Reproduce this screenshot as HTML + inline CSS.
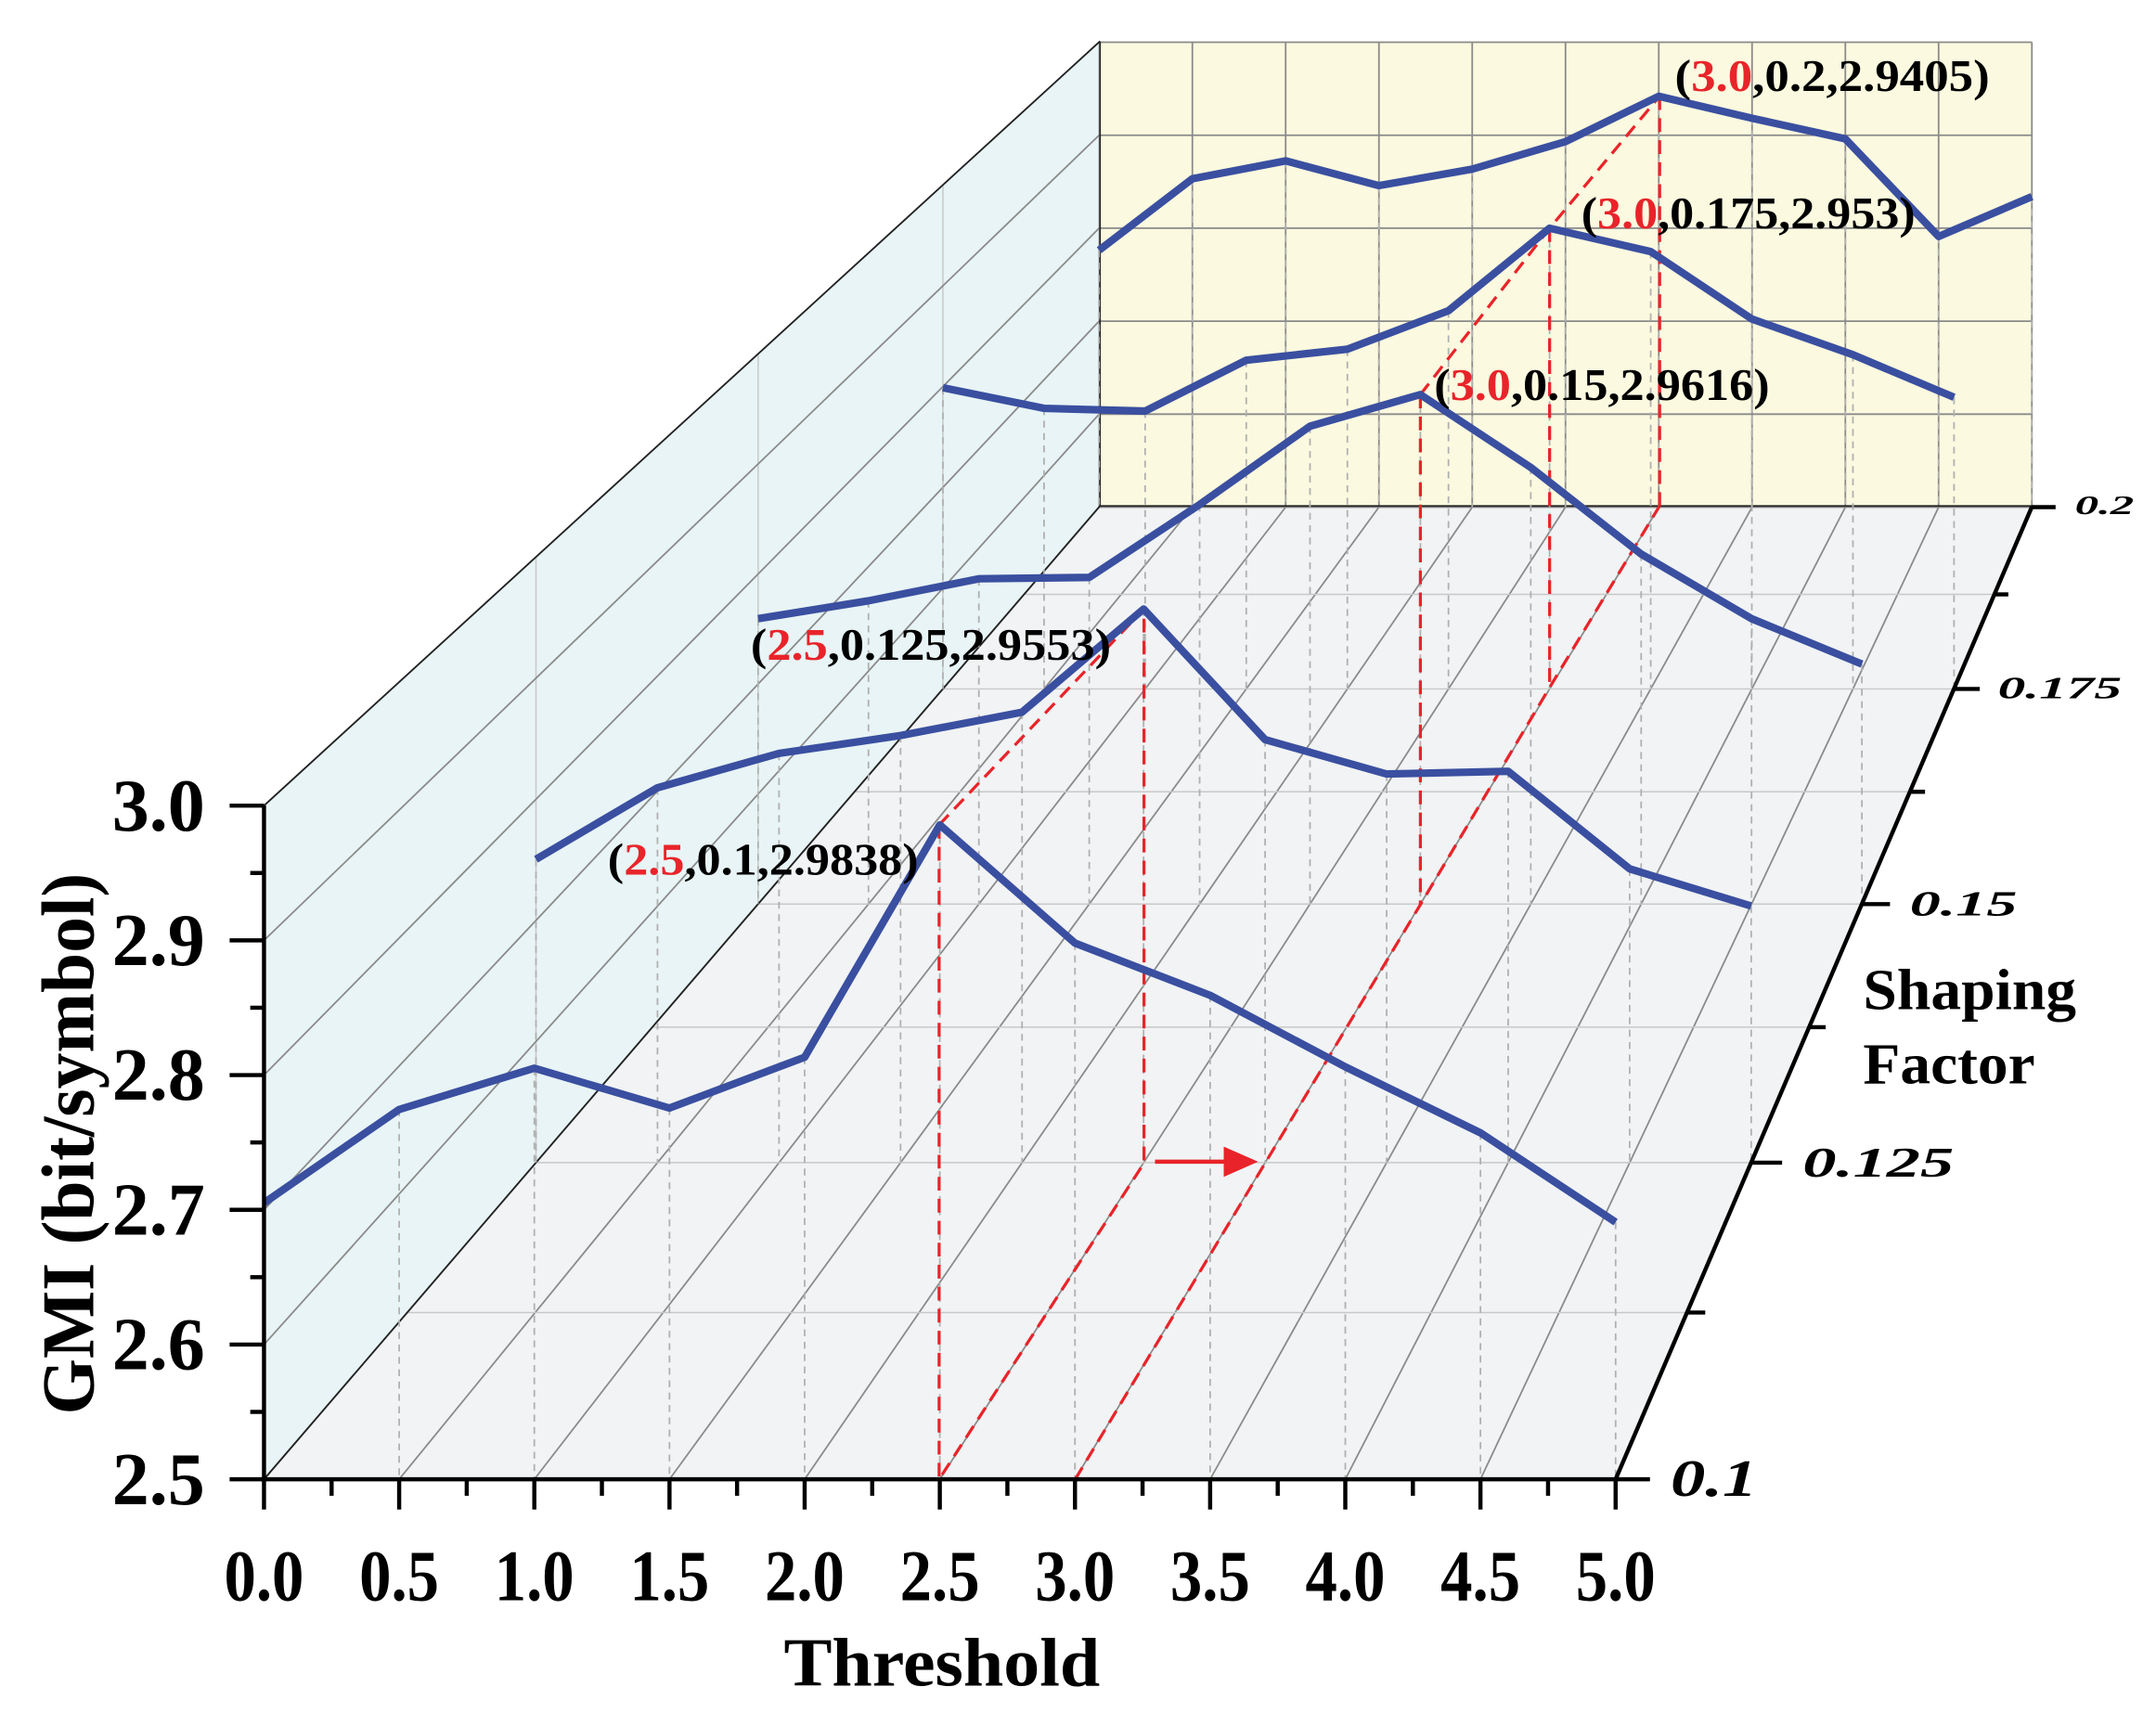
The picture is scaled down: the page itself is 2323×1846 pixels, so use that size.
<!DOCTYPE html>
<html><head><meta charset="utf-8"><style>
html,body{margin:0;padding:0;background:#fff;}
svg{display:block;}
text{font-family:"Liberation Serif",serif;font-weight:bold;}
</style></head><body>
<svg id="s" width="2323" height="1846" viewBox="0 0 1568 1246" xmlns="http://www.w3.org/2000/svg">
<rect width="1568" height="1246" fill="#fff"/>
<polygon points="192,1076 192,586 800,30 800,368" fill="#e8f4f5"/>
<polygon points="800,30 1478,30 1478,368 800,368" fill="#fbf9df"/>
<polygon points="192,1076 1175,1076 1478,368 800,368" fill="#f1f3f4"/>
<g id="grid"></g>
<g id="drops"></g>
<g id="red" stroke="#e8242a" stroke-width="2.2" stroke-dasharray="10,6" fill="none">
<polyline points="683,600 683,1076 832,846 832,443"/>
<polyline points="683,600 832,443"/>
<polyline points="1033,287 1033,658"/>
<polyline points="1127,166 1127,500"/>
<polyline points="1207,70 1207,368"/>
<polyline points="782,1076 1033,658 1127,500 1207,368"/>
<polyline points="1033,287 1127,166 1207,70"/>
</g>
<line x1="840" y1="845" x2="895" y2="845" stroke="#e8242a" stroke-width="3"/>
<polygon points="915,845 890,834 890,856" fill="#e8242a"/>
<g id="series" fill="none" stroke="#3a4fa0" stroke-width="5.5" stroke-linejoin="round"></g>
<g id="axes" stroke="#000" stroke-width="3"></g>
<g font-size="53" text-anchor="middle" id="xl"></g>
<g font-size="54" text-anchor="end" id="yl"></g>
<text x="570" y="1226" font-size="50" textLength="230" lengthAdjust="spacingAndGlyphs">Threshold</text>
<text transform="translate(68,832) rotate(-90)" font-size="54" text-anchor="middle" textLength="394" lengthAdjust="spacingAndGlyphs">GMI (bit/symbol)</text>
<text x="1355" y="734" font-size="42" textLength="155" lengthAdjust="spacingAndGlyphs">Shaping</text>
<text x="1355" y="788" font-size="42" textLength="125" lengthAdjust="spacingAndGlyphs">Factor</text>
<g font-style="italic">
<text x="1215" y="1088" font-size="38" textLength="63" lengthAdjust="spacingAndGlyphs">0.1</text>
<text x="1311" y="856" font-size="31" textLength="110" lengthAdjust="spacingAndGlyphs">0.125</text>
<text x="1389" y="666" font-size="26" textLength="78" lengthAdjust="spacingAndGlyphs">0.15</text>
<text x="1453" y="508" font-size="23" textLength="90" lengthAdjust="spacingAndGlyphs">0.175</text>
<text x="1509" y="374" font-size="19" textLength="43" lengthAdjust="spacingAndGlyphs">0.2</text>
</g>
<g font-size="33">
<text x="442" y="636" textLength="226" lengthAdjust="spacingAndGlyphs">(<tspan fill="#e8242a">2.5</tspan>,0.1,2.9838)</text>
<text x="546" y="480" textLength="262" lengthAdjust="spacingAndGlyphs">(<tspan fill="#e8242a">2.5</tspan>,0.125,2.9553)</text>
<text x="1043" y="291" textLength="244" lengthAdjust="spacingAndGlyphs">(<tspan fill="#e8242a">3.0</tspan>,0.15,2.9616)</text>
<text x="1150" y="166" textLength="243" lengthAdjust="spacingAndGlyphs">(<tspan fill="#e8242a">3.0</tspan>,0.175,2.953)</text>
<text x="1218" y="66" textLength="229" lengthAdjust="spacingAndGlyphs">(<tspan fill="#e8242a">3.0</tspan>,0.2,2.9405)</text>
</g>
<script>
var NS="http://www.w3.org/2000/svg";
function el(p,n,a){var e=document.createElementNS(NS,n);for(var k in a)e.setAttribute(k,a[k]);p.appendChild(e);return e;}
function P(t,d,g){var f=1/(1+0.449*d);var X=192+t*196.6,Y=1076-(g-2.5)*980;return [2152+f*(X-2152),-1206+f*(Y+1206)];}
var grid=document.getElementById('grid'),drops=document.getElementById('drops');
var gs={stroke:"#8a8a8a","stroke-width":1.2};
for(var i=0;i<=10;i++){var t=i*0.5,a=P(t,0,2.5),b=P(t,1,2.5);el(grid,'line',Object.assign({x1:a[0],y1:a[1],x2:b[0],y2:b[1]},gs));
 var c=P(t,1,3.0);el(grid,'line',Object.assign({x1:b[0],y1:b[1],x2:c[0],y2:c[1]},gs));}
for(var j=0;j<=8;j++){var d=j/8,a=P(0,d,2.5),b=P(5,d,2.5),c=P(0,d,3.0);
 el(grid,'line',Object.assign({x1:a[0],y1:a[1],x2:b[0],y2:b[1]},{stroke:"#c8c8c8","stroke-width":1}));
 if(j%2==0)el(grid,'line',Object.assign({x1:a[0],y1:a[1],x2:c[0],y2:c[1]},{stroke:"#c8c8c8","stroke-width":1}));}
for(var k=0;k<=5;k++){var g=2.5+k*0.1,a=P(0,0,g),b=P(0,1,g),c=P(5,1,g);
 el(grid,'line',Object.assign({x1:a[0],y1:a[1],x2:b[0],y2:b[1]},gs));
 el(grid,'line',Object.assign({x1:b[0],y1:b[1],x2:c[0],y2:c[1]},gs));}
el(grid,'line',{x1:192,y1:586,x2:800,y2:30,stroke:"#222","stroke-width":1.2});
el(grid,'line',{x1:800,y1:30,x2:800,y2:368,stroke:"#222","stroke-width":1.2});
el(grid,'line',{x1:192,y1:1076,x2:800,y2:368,stroke:"#222","stroke-width":1.2});
el(grid,'line',{x1:800,y1:368,x2:1478,y2:368,stroke:"#222","stroke-width":1.2});
var S=[
[0,[875,807,777,806,769,600,686,724,776,824,889]],
[0.25,[625,573,548,535,518,443,538,563,561,632,659]],
[0.5,[450,437,421,420,367,310,287,340,403,450,483]],
[0.75,[282,297,299,262,254,226,166,183,232,258,289]],
[1,[182,130,117,135,123,103,70,86,101,172,143]]];
var ser=document.getElementById('series');
S.forEach(function(s){var pts=[];for(var i=0;i<11;i++){var fl=P(i*0.5,s[0],2.5);pts.push(fl[0]+','+s[1][i]);
 el(drops,'line',{x1:fl[0],y1:s[1][i],x2:fl[0],y2:fl[1],stroke:"#b0b0b0","stroke-width":1.2,"stroke-dasharray":"5,4"});}
 el(ser,'polyline',{points:pts.join(' ')});});
var ax=document.getElementById('axes');
el(ax,'line',{x1:192,y1:586,x2:192,y2:1078});
el(ax,'line',{x1:190,y1:1076,x2:1177,y2:1076});
el(ax,'line',{x1:1175,y1:1076,x2:1478,y2:368});
var xl=document.getElementById('xl'),yl=document.getElementById('yl');
for(var i=0;i<=20;i++){var x=192+i*49.15;el(ax,'line',{x1:x,y1:1076,x2:x,y2:i%2?1088:1098});
 if(i%2==0){var t=el(xl,'text',{x:x,y:1164,textLength:58,lengthAdjust:"spacingAndGlyphs"});t.textContent=(i/4).toFixed(1);}}
for(var k=0;k<=10;k++){var y=1076-k*49;el(ax,'line',{x1:192,y1:y,x2:k%2?182:167,y2:y});
 if(k%2==0){var t=el(yl,'text',{x:149,y:y+18});t.textContent=(2.5+k*0.05).toFixed(1);}}
for(var j=0;j<=8;j++){var d=j/8,f=1/(1+0.449*d),a=P(5,d,2.5);el(ax,'line',{x1:a[0],y1:a[1],x2:a[0]+(j%2?14:25)*f,y2:a[1]});}
</script>
</svg>
</body></html>
